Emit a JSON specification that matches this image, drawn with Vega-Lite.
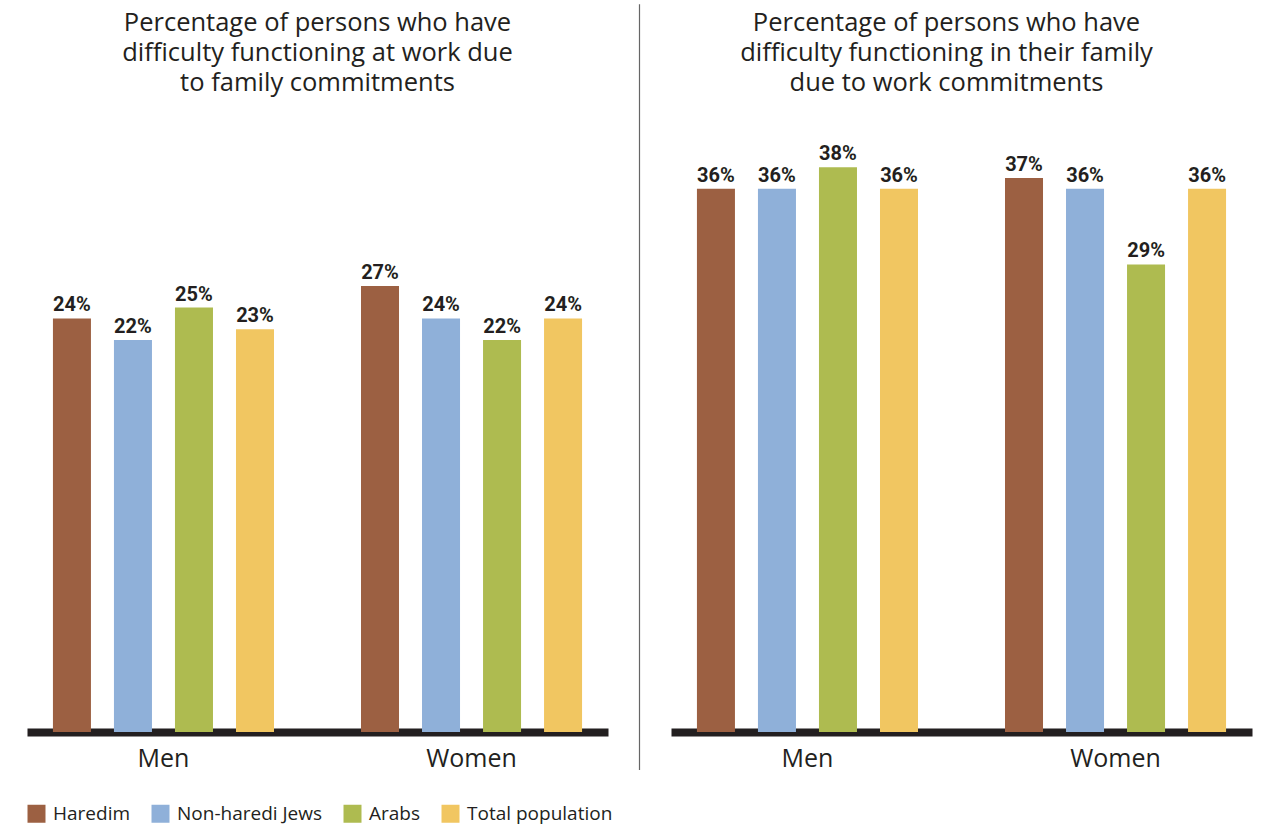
{
  "$schema": "https://vega.github.io/schema/vega-lite/v6.json",
  "background": "white",
  "padding": {"left": 27, "top": 3, "right": 10, "bottom": 60},
  "datasets": {
    "bars": [
      {"panel": "work", "gender": "Men", "group": "Haredim", "value": 0.24},
      {"panel": "work", "gender": "Men", "group": "Non-haredi Jews", "value": 0.22},
      {"panel": "work", "gender": "Men", "group": "Arabs", "value": 0.25},
      {"panel": "work", "gender": "Men", "group": "Total population", "value": 0.23},
      {"panel": "work", "gender": "Women", "group": "Haredim", "value": 0.27},
      {"panel": "work", "gender": "Women", "group": "Non-haredi Jews", "value": 0.24},
      {"panel": "work", "gender": "Women", "group": "Arabs", "value": 0.22},
      {"panel": "work", "gender": "Women", "group": "Total population", "value": 0.24},
      {"panel": "family", "gender": "Men", "group": "Haredim", "value": 0.36},
      {"panel": "family", "gender": "Men", "group": "Non-haredi Jews", "value": 0.36},
      {"panel": "family", "gender": "Men", "group": "Arabs", "value": 0.38},
      {"panel": "family", "gender": "Men", "group": "Total population", "value": 0.36},
      {"panel": "family", "gender": "Women", "group": "Haredim", "value": 0.37},
      {"panel": "family", "gender": "Women", "group": "Non-haredi Jews", "value": 0.36},
      {"panel": "family", "gender": "Women", "group": "Arabs", "value": 0.29},
      {"panel": "family", "gender": "Women", "group": "Total population", "value": 0.36}
    ]
  },
  "config": {
    "font": "Open Sans",
    "view": {"stroke": null},
    "title": {"fontSize": 25.5, "fontWeight": "normal", "color": "#231f20", "lineHeight": 30, "offset": 14, "anchor": "middle", "font": "Open Sans"},
    "axisX": {"domainColor": "#231f20", "domainWidth": 8, "domainCap": "butt", "ticks": false, "tickSize": 0, "labelFont": "Open Sans", "labelFontSize": 25, "labelColor": "#231f20", "labelPadding": 14, "labelAngle": 0, "title": null, "zindex": 1, "grid": false},
    "legend": {"symbolType": "square", "symbolSize": 324, "symbolStrokeWidth": 0, "labelFontSize": 19, "labelColor": "#231f20", "labelFont": "Open Sans", "columnPadding": 20, "labelOffset": 7}
  },
  "spacing": 30,
  "hconcat": [
    {
      "width": 581,
      "height": 622,
      "title": {"text": ["Percentage of persons who have", "difficulty functioning at work due", "to family commitments"]},
      "data": {"name": "bars"},
      "transform": [{"filter": "datum.panel === 'work'"}],
      "encoding": {
        "x": {"field": "gender", "type": "nominal", "sort": ["Men", "Women"], "scale": {"paddingInner": 0.2, "paddingOuter": 0.043}},
        "xOffset": {"field": "group", "type": "nominal", "sort": ["Haredim", "Non-haredi Jews", "Arabs", "Total population"], "scale": {"paddingInner": 0.377, "paddingOuter": 0.208}},
        "y": {"field": "value", "type": "quantitative", "scale": {"domain": [-0.143, 0.433], "zero": false, "nice": false}, "axis": null}
      },
      "layer": [
        {
          "mark": {"type": "bar"},
          "encoding": {
            "y2": {"datum": -0.143},
            "color": {"field": "group", "type": "nominal", "sort": ["Haredim", "Non-haredi Jews", "Arabs", "Total population"], "scale": {"domain": ["Haredim", "Non-haredi Jews", "Arabs", "Total population"], "range": ["#9c6042", "#8fb0d9", "#aebb50", "#f1c661"]}, "legend": {"orient": "none", "direction": "horizontal", "title": null, "legendX": 0, "legendY": 694}}
          }
        },
        {
          "mark": {"type": "text", "baseline": "alphabetic", "dy": -7, "font": "Roboto", "fontSize": 20, "fontWeight": "bold", "color": "#231f20"},
          "encoding": {"text": {"field": "value", "type": "quantitative", "format": ".0%"}}
        }
      ]
    },
    {
      "width": 1,
      "height": 622,
      "data": {"values": [{"line": "separator"}]},
      "mark": {"type": "rule", "color": "#666666", "strokeWidth": 1.2},
      "encoding": {
        "y": {"datum": -0.061, "type": "quantitative", "scale": {"domain": [0, 1], "nice": false, "zero": false}, "axis": null},
        "y2": {"datum": 1.17}
      }
    },
    {
      "width": 581,
      "height": 622,
      "title": {"text": ["Percentage of persons who have", "difficulty functioning in their family", "due to work commitments"], "dx": -15},
      "data": {"name": "bars"},
      "transform": [{"filter": "datum.panel === 'family'"}],
      "encoding": {
        "x": {"field": "gender", "type": "nominal", "sort": ["Men", "Women"], "scale": {"paddingInner": 0.2, "paddingOuter": 0.043}},
        "xOffset": {"field": "group", "type": "nominal", "sort": ["Haredim", "Non-haredi Jews", "Arabs", "Total population"], "scale": {"paddingInner": 0.377, "paddingOuter": 0.208}},
        "y": {"field": "value", "type": "quantitative", "scale": {"domain": [-0.143, 0.433], "zero": false, "nice": false}, "axis": null}
      },
      "layer": [
        {
          "mark": {"type": "bar"},
          "encoding": {
            "y2": {"datum": -0.143},
            "color": {"field": "group", "type": "nominal", "sort": ["Haredim", "Non-haredi Jews", "Arabs", "Total population"], "scale": {"domain": ["Haredim", "Non-haredi Jews", "Arabs", "Total population"], "range": ["#9c6042", "#8fb0d9", "#aebb50", "#f1c661"]}}
          }
        },
        {
          "mark": {"type": "text", "baseline": "alphabetic", "dy": -7, "font": "Roboto", "fontSize": 20, "fontWeight": "bold", "color": "#231f20"},
          "encoding": {"text": {"field": "value", "type": "quantitative", "format": ".0%"}}
        }
      ]
    }
  ]
}
